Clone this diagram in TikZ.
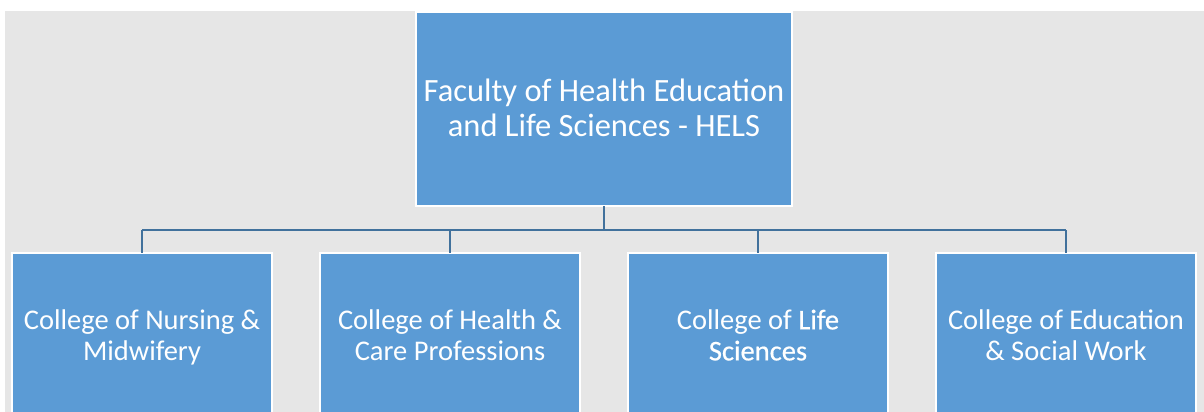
\documentclass[tikz,border=0pt]{standalone}
\usepackage{fontspec}
\setmainfont{Carlito}
% first-line struts that set the vertical placement of the box texts
\newcommand{\toprule}{\rule{0pt}{30.5pt}}
\newcommand{\collrule}{\rule{0pt}{31pt}}
\begin{document}
\begin{tikzpicture}[x=1pt,y=-1pt,
  unitbox/.style={draw=white, line width=1.2pt, fill=boxblue, text=white,
    align=center, inner sep=0pt, outer sep=0pt, anchor=north west},
  link/.style={draw=linkblue, line width=2pt}]
\definecolor{boxblue}{HTML}{5B9BD5}
\definecolor{linkblue}{HTML}{41719C}
\definecolor{bggray}{HTML}{E6E6E6}
\useasboundingbox (0,0) rectangle (1204,412);
\fill[white] (0,0) rectangle (1204,412);
\fill[bggray] (5,11) rectangle (1204,412);
% faculty
\node[unitbox, minimum width=376pt, minimum height=194pt, font=\fontsize{32.5}{35}\selectfont]
  (hels) at (416,12) {\toprule Faculty of Health Education\\and Life Sciences - HELS\strut};
% colleges
\begin{scope}[every node/.append style={unitbox, minimum width=260pt, minimum height=162pt,
    font=\fontsize{28.5}{31}\selectfont}]
\node (c1) at (12,253) {\collrule College of Nursing \&\\Midwifery\strut};
\node (c2) at (320,253) {\collrule College of Health \&\\Care Professions\strut};
\node (c3) at (628,253) {\collrule College of {\addfontfeature{FakeBold=0.6}Life}\\{\addfontfeature{FakeBold=0.6}Sciences}\strut};
\node (c4) at (936,253) {\collrule College of Education\\\& Social Work\strut};
\end{scope}
% connectors
\coordinate (bus) at (0,230);
\draw[link] (hels.south) -- (hels.south |- bus);
\draw[link] (c1.north |- bus) -- (c4.north |- bus);
\foreach \c in {c1,c2,c3,c4}
  \draw[link] (\c.north |- bus) -- (\c.north);
\end{tikzpicture}
\end{document}
